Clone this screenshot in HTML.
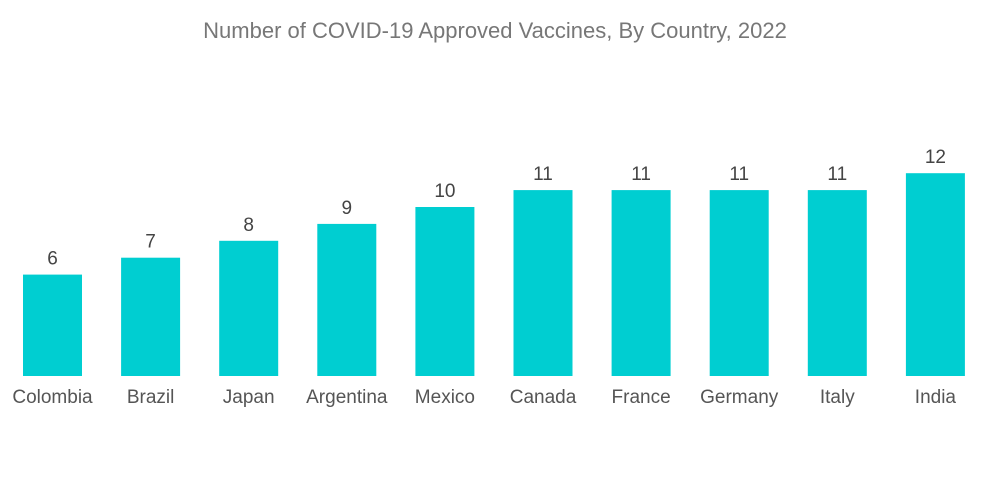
<!DOCTYPE html>
<html><head><meta charset="utf-8"><style>
body{margin:0;background:#fff;}
svg{display:block;font-family:"Liberation Sans",sans-serif;}
</style></head><body>
<svg id="chart" width="1000" height="504">
<text x="495" y="38" text-anchor="middle" font-size="22" fill="#777">Number of COVID-19 Approved Vaccines, By Country, 2022</text>
<g id="bars"></g>
</svg>
<script>
const categories=["Colombia","Brazil","Japan","Argentina","Mexico","Canada","France","Germany","Italy","India"];
const values=[6,7,8,9,10,11,11,11,11,12];
const baseY=376, unit=16.9, x0=52.5, step=98.1, bw=59;
const yPos=v=>baseY-v*unit;
const xPos=i=>x0+i*step;
const g=document.getElementById('bars');
const ns="http://www.w3.org/2000/svg";
categories.forEach((c,i)=>{
  const r=document.createElementNS(ns,'rect');
  r.setAttribute('x',xPos(i)-bw/2);r.setAttribute('y',yPos(values[i]));
  r.setAttribute('width',bw);r.setAttribute('height',baseY-yPos(values[i]));
  r.setAttribute('fill','#00CED1');
  
  
  g.appendChild(r);
  const v=document.createElementNS(ns,'text');
  v.setAttribute('x',xPos(i));v.setAttribute('y',yPos(values[i])-10);
  v.setAttribute('text-anchor','middle');v.setAttribute('font-size','19');v.setAttribute('fill','#444');
  v.textContent=values[i];
  
  
  g.appendChild(v);
  const l=document.createElementNS(ns,'text');
  l.setAttribute('x',xPos(i));l.setAttribute('y',403);
  l.setAttribute('text-anchor','middle');l.setAttribute('font-size','19');l.setAttribute('fill','#555');
  l.textContent=c;
  
  
  g.appendChild(l);
});
</script>
</body></html>
